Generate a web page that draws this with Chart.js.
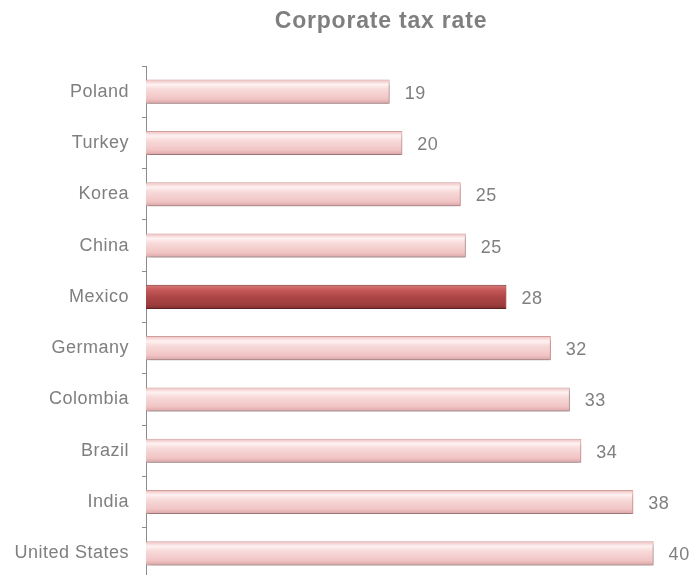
<!DOCTYPE html>
<html lang="en">
<head>
    <meta charset="UTF-8">
    <title>Corporate tax rate</title>
    <style>
        html,body{margin:0;padding:0;background:#fff;overflow:hidden}
        #wrap{width:692px;height:590px}
    </style>
    <script src="https://cdn.jsdelivr.net/npm/chart.js@4.4.1/dist/chart.umd.min.js"></script>
</head>
<body>
    <div id="wrap"><canvas id="tax-chart" width="692" height="590"></canvas></div>

    <script>
        // Data
        const countries = ['Poland', 'Turkey', 'Korea', 'China', 'Mexico', 'Germany', 'Colombia', 'Brazil', 'India', 'United States'];
        const taxRates = [19.2, 20.2, 24.8, 25.2, 28.4, 31.9, 33.4, 34.3, 38.4, 40];
        const highlighted = 'Mexico';
        const chartTitle = 'Corporate tax rate';

        const textGrey = '#7f7f7f';
        const font = "'Liberation Sans', Arial, sans-serif";

        // Glossy bar fill, one gradient per bar
        function barFill(context) {
            const chart = context.chart;
            const yScale = chart.scales.y;
            const isHi = countries[context.dataIndex] === highlighted;
            if (!chart.chartArea || !yScale) return isHi ? '#a84444' : '#f3c6c6';
            const c = yScale.getPixelForValue(context.dataIndex);
            const h = 24;
            const g = chart.ctx.createLinearGradient(0, c - h / 2, 0, c + h / 2);
            if (isHi) {
                g.addColorStop(0, '#d87a7a');
                g.addColorStop(0.2, '#c85a5a');
                g.addColorStop(0.5, '#ad4646');
                g.addColorStop(0.85, '#9c3c3c');
                g.addColorStop(1, '#7e2e2e');
            } else {
                g.addColorStop(0, '#efbcbc');
                g.addColorStop(0.2, '#fef2f2');
                g.addColorStop(0.4, '#f8dada');
                g.addColorStop(0.8, '#f1c4c4');
                g.addColorStop(1, '#d9a4a4');
            }
            return g;
        }

        const shadowPlugin = {
            id: 'barShadow',
            beforeDraw(chart) {
                chart.ctx.letterSpacing = '0.5px';
            },
            beforeDatasetsDraw(chart) {
                const ctx = chart.ctx;
                ctx.save();
                ctx.shadowColor = 'rgba(0,0,0,0.3)';
                ctx.shadowOffsetY = 3;
                ctx.shadowOffsetX = 1;
                ctx.shadowBlur = 4;
            },
            afterDatasetsDraw(chart) {
                const ctx = chart.ctx;
                ctx.restore();
                // value labels
                const meta = chart.getDatasetMeta(0);
                ctx.save();
                ctx.letterSpacing = '0.5px';
                ctx.font = '18px ' + font;
                ctx.fillStyle = textGrey;
                ctx.textAlign = 'left';
                ctx.textBaseline = 'middle';
                meta.data.forEach((bar, i) => {
                    ctx.fillText(String(Math.round(taxRates[i])), bar.x + 15, bar.y + 2);
                });
                // title
                ctx.letterSpacing = '0.8px';
                ctx.font = 'bold 23px ' + font;
                ctx.textAlign = 'center';
                ctx.textBaseline = 'alphabetic';
                ctx.fillText(chartTitle, 381, 28);
                ctx.restore();
            }
        };

        const ctx = document.getElementById('tax-chart').getContext('2d');
        const chart = new Chart(ctx, {
            type: 'bar',
            data: {
                labels: countries,
                datasets: [{
                    data: taxRates,
                    backgroundColor: barFill,
                    borderColor: countries.map(c => c === highlighted ? '#7a2c2c' : '#d3a0a0'),
                    borderWidth: 1,
                    borderSkipped: 'left',
                    categoryPercentage: 1,
                    barPercentage: 0.47
                }]
            },
            options: {
                indexAxis: 'y',
                responsive: false,
                animation: false,
                devicePixelRatio: 1,
                layout: { padding: { left: 0, right: 13, top: 66, bottom: 11 } },
                plugins: {
                    legend: { display: false },
                    tooltip: { enabled: false },
                    title: { display: false }
                },
                scales: {
                    x: {
                        display: false,
                        min: 0,
                        max: 42
                    },
                    y: {
                        afterFit(scale) {
                            scale.width = 146;
                            scale.paddingTop = 0;
                            scale.paddingBottom = 0;
                        },
                        border: { display: true, color: '#8c8c8c', width: 1 },
                        grid: {
                            offset: true,
                            drawOnChartArea: false,
                            drawTicks: true,
                            tickLength: 4,
                            color: '#8c8c8c'
                        },
                        ticks: {
                            padding: 13,
                            color: textGrey,
                            font: { family: font, size: 18 }
                        }
                    }
                }
            },
            plugins: [shadowPlugin]
        });
    </script>
</body>
</html>
